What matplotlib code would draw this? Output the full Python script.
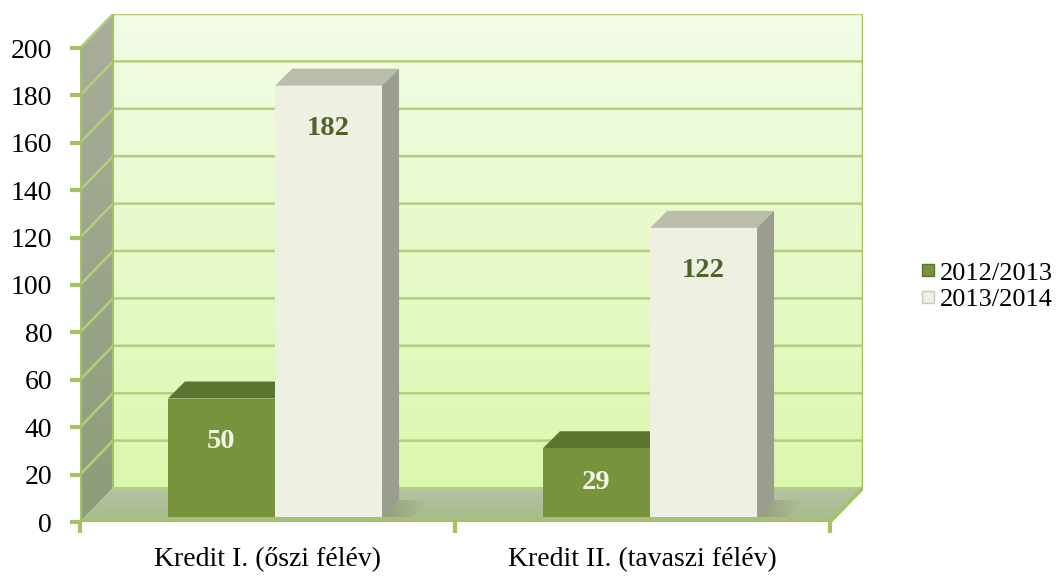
import numpy as np
import matplotlib.pyplot as plt
from matplotlib.patches import Polygon
from matplotlib.lines import Line2D
from matplotlib.colors import LinearSegmentedColormap

plt.rcParams['font.family'] = ['Liberation Serif', 'DejaVu Serif']

# --- data ---
categories = ["Kredit I. (őszi félév)", "Kredit II. (tavaszi félév)"]
series_names = ["2012/2013", "2013/2014"]
values_1213 = [50, 29]
values_1314 = [182, 122]
yticks = [0, 20, 40, 60, 80, 100, 120, 140, 160, 180, 200]

# --- colours ---
green_line = "#a3c264"
dark_front = "#77933c"
dark_top = "#5c7530"
light_front = "#eef0e1"
light_top = "#b9bdaa"
light_side = "#9a9e90"
lbl_dark = "#4f6228"
lbl_light = "#f2f2e4"

# pseudo 3D depth (data units)
PX_X = 375.0   # px per category unit
PX_Y = 2.37    # px per value unit
DX, DY = 33 / PX_X, 34 / PX_Y      # wall depth
BX, BY = 5 / PX_X, 5 / PX_Y        # bar front plane offset
TX, TY = 17 / PX_X, 17 / PX_Y      # bar depth
bar_w = 0.285
shift = 0.143

fig = plt.figure(figsize=(10.59, 5.80), dpi=100)
ax = fig.add_axes([80 / 1059, 58 / 580, 783 / 1059, 508 / 580])
xlim = (-0.5, 1.5 + DX)
ylim = (0, 200 + DY)


def grad_poly(verts, c1, c2, z, horiz=False, alpha=1.0):
    poly = Polygon(verts, closed=True, facecolor='none', edgecolor='none', zorder=z)
    ax.add_patch(poly)
    xs = [v[0] for v in verts]
    ys = [v[1] for v in verts]
    g = np.linspace(0, 1, 256)
    arr = g.reshape(1, -1) if horiz else g.reshape(-1, 1)
    cm = LinearSegmentedColormap.from_list('g', [c1, c2])
    im = ax.imshow(arr, cmap=cm, extent=[min(xs), max(xs), min(ys), max(ys)], alpha=alpha,
                   origin='lower', aspect='auto', zorder=z, interpolation='bilinear')
    im.set_clip_path(poly)
    return poly


# back wall
grad_poly([(-0.5 + DX, DY), (1.5 + DX, DY), (1.5 + DX, 200 + DY), (-0.5 + DX, 200 + DY)],
          "#dcf7ae", "#f3fce6", 0)
# left wall
grad_poly([(-0.5, 0), (-0.5 + DX, DY), (-0.5 + DX, 200 + DY), (-0.5, 200)],
          "#8e9c78", "#a9ae9c", 0)
# floor
grad_poly([(-0.5, 0), (1.5, 0), (1.5 + DX, DY), (-0.5 + DX, DY)],
          "#a7bb86", "#b7c2a6", 0)

# gridlines on walls
for v in yticks[1:]:
    ax.plot([-0.5, -0.5 + DX, 1.5 + DX], [v, v + DY, v + DY], color="#b3cf7c",
            lw=1.8, zorder=1, solid_capstyle='butt')
# wall edges
ax.plot([-0.5 + DX, -0.5 + DX], [DY, 200 + DY], color=green_line, lw=1.5, zorder=1)
ax.plot([1.5 + DX, 1.5 + DX], [DY, 200 + DY], color=green_line, lw=2.5, zorder=1)
ax.plot([-0.5 + DX, 1.5 + DX], [DY, DY], color="#b3cf7c", lw=1.5, zorder=1)
ax.plot([1.5, 1.5 + DX], [0, DY], color=green_line, lw=2.5, zorder=1)

# bars
x = np.arange(len(categories))
for vals, off, front, top, side, lc in [
        (values_1213, -shift, dark_front, dark_top, "#5f7830", lbl_light),
        (values_1314, shift, light_front, light_top, light_side, lbl_dark)]:
    xs = x + off + 0.02
    bars = ax.bar(xs, vals, width=bar_w, bottom=BY, color=front, zorder=5)
    for b, v in zip(bars, vals):
        x0, x1 = b.get_x(), b.get_x() + b.get_width()
        yt = BY + v
        # soft shadow on the floor
        grad_poly([(x1, BY), (x1 + 0.08, BY), (x1 + 0.08 + TX, BY + TY), (x1 + TX, BY + TY)],
                  "#7f8c6c", "#b0bd9c", 3, horiz=True, alpha=0.6)
        ax.add_patch(Polygon([(x0, yt), (x1, yt), (x1 + TX, yt + TY), (x0 + TX, yt + TY)],
                             closed=True, facecolor=top, edgecolor='none', zorder=4))
        ax.add_patch(Polygon([(x1, BY), (x1 + TX, BY + TY), (x1 + TX, yt + TY), (x1, yt)],
                             closed=True, facecolor=side, edgecolor='none', zorder=4))
        ly = BY + max(v - 18, v / 2)
        ax.text(b.get_x() + b.get_width() / 2, ly, str(v), ha='center', va='center',
                fontsize=20.5, fontweight='bold', color=lc, zorder=6)

# front axis lines
ax.plot([-0.5, -0.5], [0, 200], color=green_line, lw=3, zorder=2)
ax.plot([-0.5, 1.5], [0, 0], color=green_line, lw=3, zorder=7)

for s in ax.spines.values():
    s.set_visible(False)
ax.set_xlim(*xlim)
ax.set_ylim(*ylim)
ax.set_yticks(yticks)
ax.tick_params(axis='y', length=7, width=3, color=green_line, pad=13, labelsize=20)
ax.set_xticks(x)
ax.set_xticklabels(categories, fontsize=20)
ax.set_xticks([-0.5, 0.5, 1.5], minor=True)
ax.tick_params(axis='x', which='major', length=0, pad=18)
ax.tick_params(axis='x', which='minor', length=8, width=3, color=green_line)

handles = [Line2D([], [], marker='s', linestyle='none', markersize=9,
                  markerfacecolor=dark_front, markeredgecolor="#5c7530"),
           Line2D([], [], marker='s', linestyle='none', markersize=9,
                  markerfacecolor=light_front, markeredgecolor="#c9ccba")]
fig.legend(handles, series_names, loc='center left', bbox_to_anchor=(898 / 1059, 1 - 286 / 580),
           frameon=False, fontsize=19, handlelength=0.5, handletextpad=0.2, labelspacing=0.1)

fig.savefig("out.png", dpi=100)
